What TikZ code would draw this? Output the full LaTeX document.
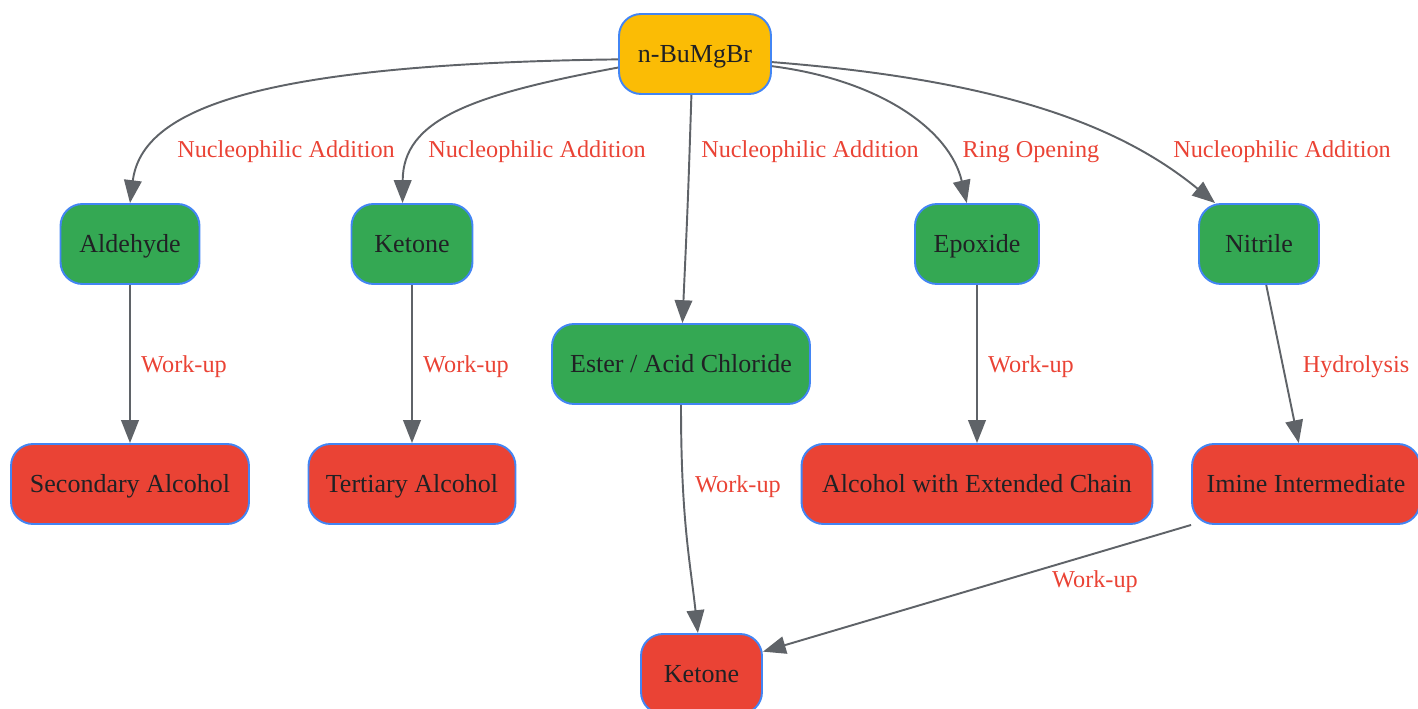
\documentclass[tikz,border=0pt]{standalone}
\usepackage{fontspec}
\setmainfont{Liberation Serif}
\usetikzlibrary{arrows.meta}
\definecolor{gyellow}{HTML}{FBBC05}
\definecolor{ggreen}{HTML}{34A853}
\definecolor{gred}{HTML}{EA4335}
\definecolor{gblue}{HTML}{4285F4}
\definecolor{ggray}{HTML}{5F6368}
\definecolor{gtext}{HTML}{202124}
\begin{document}
\begin{tikzpicture}[x=0.02cm,y=-0.02cm,
  box/.style={draw=gblue,line width=1.1pt,rounded corners=12.5pt,minimum height=1.6cm,
    text=gtext,font=\fontsize{14.8}{17}\selectfont,inner sep=0pt,text height=10pt,text depth=0pt},
  startbox/.style={box,fill=gyellow},
  midbox/.style={box,fill=ggreen},
  endbox/.style={box,fill=gred},
  lbl/.style={text=gred,font=\fontsize{13.8}{16}\selectfont,inner sep=0pt,text height=9.4pt,text depth=0pt},
  arr/.style={draw=ggray,line width=1.1pt,-{Triangle[length=13pt,width=10pt]}}]
\useasboundingbox (0,0) rectangle (1418,709);
% nodes
\node[startbox,minimum width=3.04cm] (grig) at (695,54) {n-BuMgBr};
\node[midbox,minimum width=2.78cm] (ald) at (130,244) {Aldehyde};
\node[midbox,minimum width=2.42cm] (ket) at (412,244) {Ketone};
\node[midbox,minimum width=5.16cm] (ester) at (681,364) {Ester / Acid Chloride};
\node[midbox,minimum width=2.48cm] (epox) at (977,244) {Epoxide};
\node[midbox,minimum width=2.40cm] (nitr) at (1259,244) {Nitrile};
\node[endbox,minimum width=4.76cm] (secalc) at (130,484) {Secondary Alcohol};
\node[endbox,minimum width=4.14cm] (teralc) at (412,484) {Tertiary Alcohol};
\node[endbox,minimum width=7.02cm] (extalc) at (977,484) {Alcohol with Extended Chain};
\node[endbox,minimum width=4.56cm] (imine) at (1306,484) {Imine Intermediate};
\node[endbox,minimum width=2.42cm] (ketout) at (701.5,674) {Ketone};
% connectors
\draw[arr] (grig.184) .. controls (260,64) and (142,108) .. (ald.north);
\draw[arr] (grig.190) .. controls (470,95) and (403,120) .. (ket.103);
\draw[arr] (grig.265) .. controls (688,200) .. (ester.88);
\draw[arr] (grig.-9) .. controls (880,80) and (950,130) .. (epox.104);
\draw[arr] (grig.-6) .. controls (1000,80) and (1120,125) .. (nitr.137);
\draw[arr] (ald) -- (secalc);
\draw[arr] (ket) -- (teralc);
\draw[arr] (ester.south) .. controls (681,520) and (690,560) .. (ketout.95);
\draw[arr] (epox) -- (extalc);
\draw[arr] (nitr.-80) -- (imine.100);
\draw[arr] (imine.south west) -- (ketout.20);
% labels
\node[lbl] (l1) at (286,149) {Nucleophilic Addition};
\node[lbl] (l2) at (537,149) {Nucleophilic Addition};
\node[lbl] (l3) at (810,149) {Nucleophilic Addition};
\node[lbl] (l4) at (1031,149) {Ring Opening};
\node[lbl] (l5) at (1282,149) {Nucleophilic Addition};
\node[lbl] (w1) at (184,364) {Work-up};
\node[lbl] (w2) at (466,364) {Work-up};
\node[lbl] (w3) at (738,484) {Work-up};
\node[lbl] (w4) at (1031,364) {Work-up};
\node[lbl] (h1) at (1356,364) {Hydrolysis};
\node[lbl] (w5) at (1095,579) {Work-up};
\end{tikzpicture}
\end{document}
